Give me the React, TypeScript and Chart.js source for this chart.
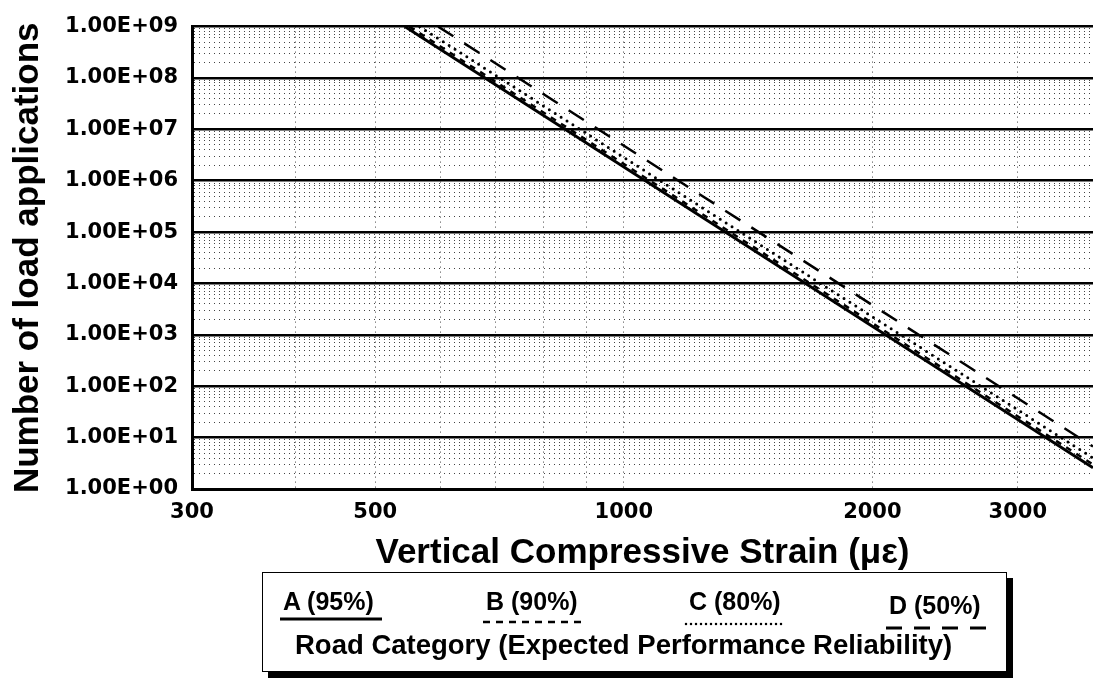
import React, { useEffect, useRef } from 'react';
import { Chart, registerables } from 'chart.js';

Chart.register(...registerables);

// ---- data ----
const seriesNames = ['A (95%)', 'B (90%)', 'C (80%)', 'D (50%)'];
// strain (με) at which each criterion line reaches 1.00E+09 load applications
const strainAtTopLoad = [543, 550, 566, 596];
// load applications of each line at the right edge of the plot (strain = 3700)
const loadsAtMaxStrain = [2.6, 3.0, 4.0, 6.7];
const topLoad = 1e9;
const minStrain = 300;
const maxStrain = 3700;
const minLoad = 1;

const xTickValues = [300, 400, 500, 600, 700, 800, 900, 1000, 2000, 3000];
const xTickLabels = ['300', '', '500', '', '', '', '', '1000', '2000', '3000'];

const yMajorValues = [1, 10, 100, 1e3, 1e4, 1e5, 1e6, 1e7, 1e8, 1e9];
const yTickLabels = [
  '1.00E+00', '1.00E+01', '1.00E+02', '1.00E+03', '1.00E+04',
  '1.00E+05', '1.00E+06', '1.00E+07', '1.00E+08', '1.00E+09',
];
const minorMultipliers = [2, 3, 4, 5, 6, 7, 8, 9];

const xTitle = 'Vertical Compressive Strain (με)';
const yTitle = 'Number of load applications';
const legendCaption = 'Road Category (Expected Performance Reliability)';

// ---- styles ----
const lineStyles = [
  { width: 3, dash: [] as number[], cap: 'butt' },
  { width: 2.5, dash: [6, 6], cap: 'butt' },
  { width: 3, dash: [0, 7], cap: 'round' },
  { width: 2.5, dash: [18, 13], cap: 'butt' },
];

const yGridValues: number[] = (() => {
  const out: number[] = [];
  yMajorValues.forEach((m, i) => {
    out.push(m);
    if (i < yMajorValues.length - 1) minorMultipliers.forEach((k) => out.push(k * m));
  });
  return out;
})();

const isMajorY = (v: number) => yMajorValues.includes(v);

const tickFont = { family: '"DejaVu Sans", sans-serif', size: 21, weight: 'bold' as const };
const titleFont = { family: '"Liberation Sans", Arial, sans-serif', size: 35, weight: 'bold' as const };

export default function App() {
  const ref = useRef<HTMLCanvasElement | null>(null);

  useEffect(() => {
    if (!ref.current) return;
    const chart = new Chart(ref.current, {
      type: 'line',
      data: {
        datasets: seriesNames.map((name, i) => ({
          label: name,
          data: [
            { x: strainAtTopLoad[i], y: topLoad },
            { x: maxStrain, y: loadsAtMaxStrain[i] },
          ],
          borderColor: '#000',
          borderWidth: lineStyles[i].width,
          borderDash: lineStyles[i].dash,
          borderCapStyle: lineStyles[i].cap as CanvasLineCap,
          pointRadius: 0,
          fill: false,
          tension: 0,
        })),
      },
      options: {
        animation: false,
        responsive: false,
        layout: { padding: { top: 21, right: 0, bottom: 105, left: 0 } },
        plugins: { legend: { display: false }, tooltip: { enabled: false } },
        scales: {
          x: {
            type: 'logarithmic',
            min: minStrain,
            max: maxStrain,
            afterBuildTicks: (s: any) => {
              s.ticks = xTickValues.map((v) => ({ value: v }));
            },
            afterFit: (s: any) => {
              s.height = 87;
            },
            ticks: {
              autoSkip: false,
              maxRotation: 0,
              padding: 11,
              color: '#000',
              font: tickFont,
              callback: (v: any) => {
                const i = xTickValues.indexOf(Number(v));
                return i >= 0 ? xTickLabels[i] : '';
              },
            },
            grid: { drawTicks: false, color: '#444', lineWidth: 1 },
            border: { display: true, color: '#000', width: 3, dash: [1, 4] },
            title: {
              display: true,
              text: xTitle,
              color: '#000',
              font: titleFont,
              padding: { top: 0, bottom: 2 },
            },
          },
          y: {
            type: 'logarithmic',
            min: minLoad,
            max: topLoad,
            afterBuildTicks: (s: any) => {
              s.ticks = yGridValues.map((v) => ({ value: v, major: isMajorY(v) }));
            },
            afterFit: (s: any) => {
              s.width = 192;
            },
            ticks: {
              autoSkip: false,
              padding: 14,
              color: '#000',
              font: tickFont,
              callback: (v: any) => {
                const i = yMajorValues.indexOf(Number(v));
                return i >= 0 ? yTickLabels[i] : '';
              },
            },
            grid: {
              drawTicks: false,
              color: (c: any) => (c.tick && isMajorY(c.tick.value) ? '#000' : '#444'),
              lineWidth: (c: any) => (c.tick && isMajorY(c.tick.value) ? 2.5 : 1),
            },
            border: {
              display: true,
              color: '#000',
              width: 3,
              dash: (c: any) => (c.tick && !isMajorY(c.tick.value) ? [1, 4] : []),
            },
            title: {
              display: true,
              text: yTitle,
              color: '#000',
              font: titleFont,
              padding: { top: 7, bottom: 0 },
            },
          },
        },
      } as any,
    });
    return () => chart.destroy();
  }, []);

  const legendFont = '"Liberation Sans", Arial, sans-serif';
  const itemLefts = [21, 224, 427, 627];
  const itemTops = [17, 17, 17, 21];
  const underline = [
    { x1: 18, x2: 120, y: 47, w: 3, dash: '', cap: 'butt' },
    { x1: 221, x2: 321, y: 50, w: 2.5, dash: '7 6', cap: 'butt' },
    { x1: 424, x2: 524, y: 52, w: 2.5, dash: '0 5', cap: 'round' },
    { x1: 624, x2: 730, y: 56, w: 3, dash: '16 12', cap: 'butt' },
  ];

  return (
    <div style={{ position: 'absolute', left: 0, top: 0, width: 1093, height: 681, background: '#fff' }}>
      <canvas ref={ref} width={1093} height={681} style={{ width: 1093, height: 681, display: 'block' }} />
      <div
        style={{
          position: 'absolute',
          left: 262,
          top: 572,
          width: 745,
          height: 100,
          border: '1px solid #000',
          boxSizing: 'border-box',
          background: '#fff',
          boxShadow: '6px 6px 0 #000',
          fontFamily: legendFont,
          fontWeight: 'bold',
          color: '#000',
        }}
      >
        <svg width={745} height={100} style={{ position: 'absolute', left: -1, top: -1 }}>
          {underline.map((u, i) => (
            <line
              key={i}
              x1={u.x1}
              x2={u.x2}
              y1={u.y}
              y2={u.y}
              stroke="#000"
              strokeWidth={u.w}
              strokeDasharray={u.dash || undefined}
              strokeLinecap={u.cap as any}
            />
          ))}
        </svg>
        {seriesNames.map((n, i) => (
          <span
            key={n}
            style={{
              position: 'absolute',
              left: itemLefts[i] - 1,
              top: itemTops[i] - 1,
              fontSize: 25,
              lineHeight: '25px',
              whiteSpace: 'nowrap',
            }}
          >
            {n}
          </span>
        ))}
        <span
          style={{
            position: 'absolute',
            left: 32,
            top: 58,
            fontSize: 27.5,
            lineHeight: '28px',
            whiteSpace: 'nowrap',
          }}
        >
          {legendCaption}
        </span>
      </div>
    </div>
  );
}
